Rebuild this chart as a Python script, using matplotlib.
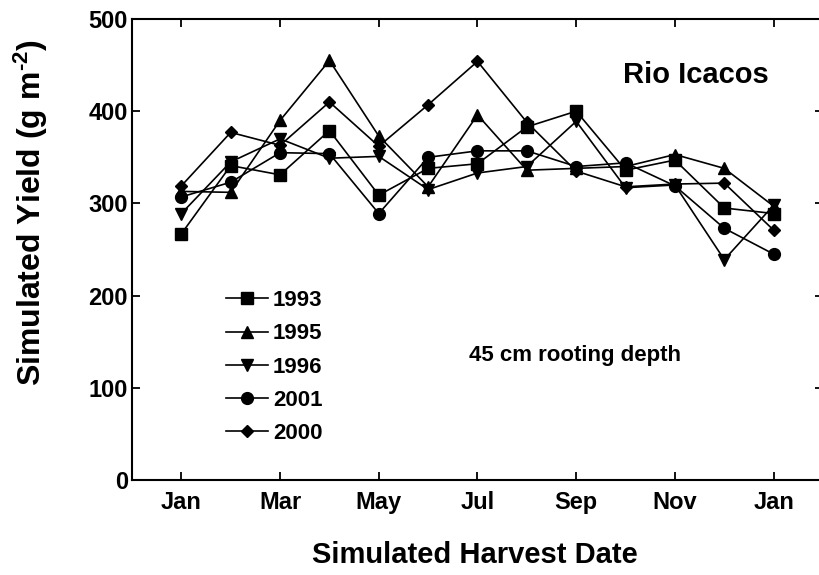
import numpy as np
import matplotlib
matplotlib.use("Agg")
import matplotlib.pyplot as plt

plt.rcParams['font.family'] = ['Liberation Sans', 'DejaVu Sans']
plt.rcParams['font.weight'] = 'bold'
plt.rcParams['mathtext.fontset'] = 'custom'
plt.rcParams['mathtext.rm'] = 'Liberation Sans:bold'
plt.rcParams['mathtext.bf'] = 'Liberation Sans:bold'
plt.rcParams['mathtext.default'] = 'bf'

# harvest months (Jan .. following Jan)
months = ["Jan", "Feb", "Mar", "Apr", "May", "Jun", "Jul", "Aug", "Sep", "Oct", "Nov", "Dec", "Jan"]
tick_labels = ["Jan", "Mar", "May", "Jul", "Sep", "Nov", "Jan"]

y1993 = [267, 341, 331, 379, 309, 338, 343, 383, 400, 336, 347, 295, 289]
y1995 = [313, 312, 390, 455, 373, 318, 396, 336, 338, 340, 353, 338, 297]
y1996 = [289, 345, 370, 349, 351, 315, 333, 340, 389, 317, 320, 239, 298]
y2001 = [307, 323, 355, 354, 289, 350, 357, 357, 340, 344, 319, 273, 245]
y2000 = [319, 377, 363, 410, 362, 407, 454, 388, 335, 318, 321, 322, 271]

series = [
    ("1993", y1993, "s", 8),
    ("1995", y1995, "^", 8.5),
    ("1996", y1996, "v", 8.5),
    ("2001", y2001, "o", 8.5),
    ("2000", y2000, "D", 6),
]

fig = plt.figure(figsize=(8.2, 5.75), dpi=100)
ax = fig.add_axes([132/820, 95/575, 691/820, 461/575])

x = np.arange(len(months))
for label, vals, mk, ms in series:
    ax.plot(x, vals, color="black", lw=1.2, marker=mk, markersize=ms,
            markerfacecolor="black", markeredgecolor="black", label=label)

ax.set_xlim(-1, 13)
ax.set_ylim(0, 500)
ax.set_xticks(np.arange(0, len(months), 2))
ax.set_xticklabels(tick_labels)
ax.set_yticks([0, 100, 200, 300, 400, 500])

for s in ax.spines.values():
    s.set_linewidth(1.5)
ax.tick_params(direction="in", top=True, right=True, length=6, width=1.3,
               labelsize=17)
ax.tick_params(axis="x", pad=8)
ax.tick_params(axis="y", pad=3)
for lab in ax.get_xticklabels() + ax.get_yticklabels():
    lab.set_fontweight("bold")

fig.text(475/820, 1 - 555/575, "Simulated Harvest Date", ha="center", va="center",
         fontsize=21, fontweight="bold")
fig.text(31/820, 1 - 213/575, "Simulated Yield (g m$^{\\text{-2}}$)", ha="center", va="center",
         rotation=90, fontsize=23, fontweight="bold")

fig.text(696/820, 1 - 75/575, "Rio Icacos", ha="center", va="center",
         fontsize=21, fontweight="bold")
fig.text(575/820, 1 - 355/575, "45 cm rooting depth", ha="center", va="center",
         fontsize=16, fontweight="bold")

leg = ax.legend(loc="upper left", bbox_to_anchor=((215-132)/691, (480-279)/461),
                frameon=False, fontsize=16, handlelength=1.9, handletextpad=0.2,
                labelspacing=0.55, borderpad=0)
for t in leg.get_texts():
    t.set_fontweight("bold")

fig.savefig("out.png", dpi=100)
